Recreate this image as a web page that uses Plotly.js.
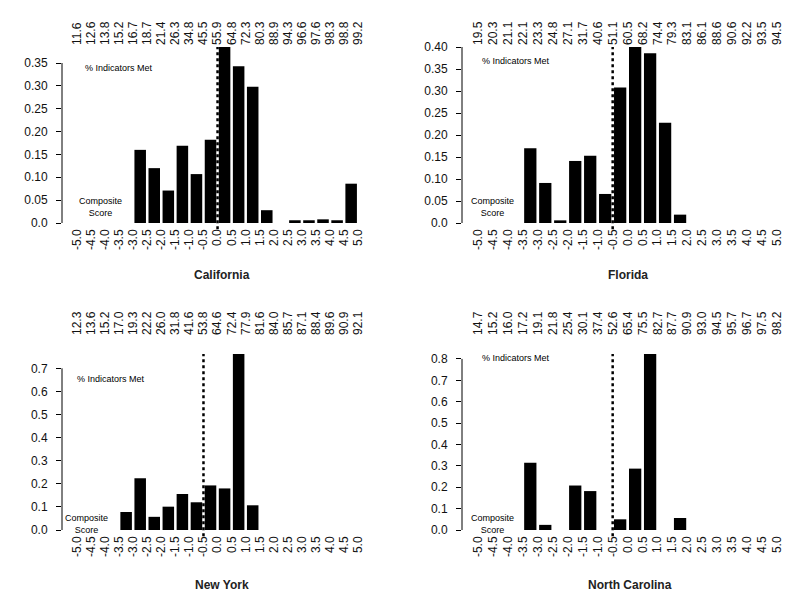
<!DOCTYPE html>
<html>
<head>
<meta charset="utf-8">
<script src="https://cdn.plot.ly/plotly-3.0.1.min.js"></script>
<style>html,body{margin:0;padding:0;background:#fff;}#chart{width:800px;height:599px;}</style>
</head>
<body>
<div id="chart"></div>
<script>
// Composite score tick labels (bottom axis)
const scoreLabels = ['-5.0','-4.5','-4.0','-3.5','-3.0','-2.5','-2.0','-1.5','-1.0','-0.5','0.0',
                     '0.5','1.0','1.5','2.0','2.5','3.0','3.5','4.0','4.5','5.0'];
// % indicators met tick labels (top axis)
const caPct = ['11.6','12.6','13.8','15.2','16.7','18.7','21.4','26.3','34.8','45.5','55.9','64.8','72.3','80.3','88.9','94.3','96.6','97.6','98.3','98.8','99.2'];
const flPct = ['19.5','20.3','21.1','22.1','23.3','24.8','27.1','31.7','40.6','51.1','60.5','68.2','74.4','79.3','83.1','86.1','88.6','90.6','92.2','93.5','94.5'];
const nyPct = ['12.3','13.6','15.2','17.0','19.3','22.2','26.0','31.8','41.6','53.8','64.6','72.4','77.9','81.6','84.0','85.7','87.1','88.4','89.6','90.9','92.1'];
const ncPct = ['14.7','15.2','16.0','17.2','19.1','21.8','25.4','30.1','37.4','52.6','65.4','75.5','82.7','87.7','90.9','93.0','94.5','95.7','96.7','97.5','98.2'];
// Share of facilities per composite-score bin (bin starts at -5.0 ... 4.5)
const caShare = [null,null,null,null,0.160,0.120,0.071,0.169,0.107,0.182,0.385,0.343,0.298,0.028,null,0.006,0.006,0.008,0.006,0.086];
const flShare = [null,null,null,0.170,0.091,0.006,0.141,0.153,0.066,0.308,0.400,0.386,0.228,0.019,null,null,null,null,null,null];
const nyShare = [null,null,null,0.078,0.224,0.057,0.101,0.156,0.120,0.193,0.180,0.762,0.107,null,null,null,null,null,null,null];
const ncShare = [null,null,null,0.314,0.024,null,0.208,0.182,null,0.050,0.287,0.823,null,0.056,null,null,null,null,null,null];
// y tick labels
const caYTicks = ['0.0','0.05','0.10','0.15','0.20','0.25','0.30','0.35'];
const flYTicks = ['0.0','0.05','0.10','0.15','0.20','0.25','0.30','0.35','0.40'];
const nyYTicks = ['0.0','0.1','0.2','0.3','0.4','0.5','0.6','0.7'];
const ncYTicks = ['0.0','0.1','0.2','0.3','0.4','0.5','0.6','0.7','0.8'];
const states = ['California','Florida','New York','North Carolina'];
const thresholds = [0.0, -0.5, -0.5, -0.5];

const FONT = 'Liberation Sans, Arial, sans-serif';
const W = 800, H = 599;
const px = v => v / W;
const py = v => 1 - v / H;

const panels = [
  {pct: caPct, share: caShare, yt: caYTicks, xd: [62, 370], yd: [47, 223], topPos: 45,
   ind: [83, 68], comp: [100, 207], title: [222, 275]},
  {pct: flPct, share: flShare, yt: flYTicks, xd: [462, 790], yd: [47, 223], topPos: 45,
   ind: [480, 61], comp: [492, 207], title: [628, 275]},
  {pct: nyPct, share: nyShare, yt: nyYTicks, xd: [62, 370], yd: [354, 530], topPos: 335,
   ind: [75, 379], comp: [86, 524], title: [222, 585]},
  {pct: ncPct, share: ncShare, yt: ncYTicks, xd: [462, 790], yd: [354, 530], topPos: 335,
   ind: [480, 358], comp: [492, 524], title: [630, 585]}
];

const scoreVals = scoreLabels.map(Number);
const binStarts = scoreVals.slice(0, 20);
const xRange = [-5.53, 5.42];

const data = [];
const layout = {
  width: W, height: H, margin: {l: 0, r: 0, t: 0, b: 0},
  paper_bgcolor: '#fff', plot_bgcolor: 'rgba(0,0,0,0)',
  showlegend: false, font: {family: FONT, color: '#000', size: 12},
  shapes: [], annotations: []
};

panels.forEach((p, i) => {
  const k = i + 1;
  const kt = i + 5;
  const xa = 'x' + k, ya = 'y' + k, xt = 'x' + kt;
  data.push({
    type: 'bar', x: binStarts, y: p.share, xaxis: xa, yaxis: ya,
    width: 0.41, offset: 0.045, marker: {color: '#000', line: {width: 0}},
    hoverinfo: 'skip'
  });
  data.push({
    type: 'scatter', mode: 'markers', x: scoreVals, y: scoreVals.map(() => 0),
    xaxis: xt, yaxis: ya, marker: {opacity: 0, size: 1}, hoverinfo: 'skip'
  });
  const yVals = p.yt.map(Number);
  const maxV = Math.max(...p.share.filter(v => v !== null));
  layout['xaxis' + k] = {
    domain: [px(p.xd[0]), px(p.xd[1])], anchor: ya, range: xRange,
    tickmode: 'array', tickvals: scoreVals, ticktext: scoreLabels, tickangle: -90,
    ticks: '', showline: false, showgrid: false, zeroline: false,
    tickfont: {size: 12, family: FONT, color: '#111'}, ticklabelstandoff: 3, fixedrange: true
  };
  layout['xaxis' + kt] = {
    overlaying: xa, side: 'top', anchor: 'free', position: py(p.topPos), range: xRange,
    tickmode: 'array', tickvals: scoreVals, ticktext: p.pct, tickangle: -90,
    ticks: '', showline: false, showgrid: false, zeroline: false,
    tickfont: {size: 12, family: FONT, color: '#111'}, fixedrange: true
  };
  layout['yaxis' + k] = {
    domain: [py(p.yd[1]), py(p.yd[0])], anchor: xa, range: [0, maxV],
    tickmode: 'array', tickvals: yVals, ticktext: p.yt,
    ticks: 'outside', ticklen: 5, tickwidth: 1, tickcolor: '#000',
    showline: false, showgrid: false, zeroline: false,
    tickfont: {size: 12, family: FONT, color: '#111'}, ticklabelstandoff: 6, fixedrange: true
  };
  // y axis line up to top tick
  layout.shapes.push({type: 'line', xref: xa + ' domain', yref: ya, x0: 0, x1: 0,
    y0: 0, y1: yVals[yVals.length - 1], line: {color: '#000', width: 1}});
  // threshold dotted line
  layout.shapes.push({type: 'line', xref: xa, yref: ya + ' domain', x0: thresholds[i], x1: thresholds[i],
    y0: -0.035, y1: 1, line: {color: '#000', width: 2.5, dash: 'dot'}});
  layout.annotations.push({xref: 'paper', yref: 'paper', x: px(p.ind[0]), y: py(p.ind[1]),
    xanchor: 'left', yanchor: 'middle', showarrow: false, text: '% Indicators Met',
    font: {size: 9, family: FONT, color: '#000'}});
  layout.annotations.push({xref: 'paper', yref: 'paper', x: px(p.comp[0]), y: py(p.comp[1]),
    xanchor: 'center', yanchor: 'middle', showarrow: false, text: 'Composite<br>Score',
    font: {size: 9, family: FONT, color: '#000'}});
  layout.annotations.push({xref: 'paper', yref: 'paper', x: px(p.title[0]), y: py(p.title[1]),
    xanchor: 'center', yanchor: 'middle', showarrow: false, text: '<b>' + states[i] + '</b>',
    font: {size: 12, family: FONT, color: '#222'}});
});

Plotly.newPlot('chart', data, layout, {staticPlot: true, displayModeBar: false});
</script>
</body>
</html>
